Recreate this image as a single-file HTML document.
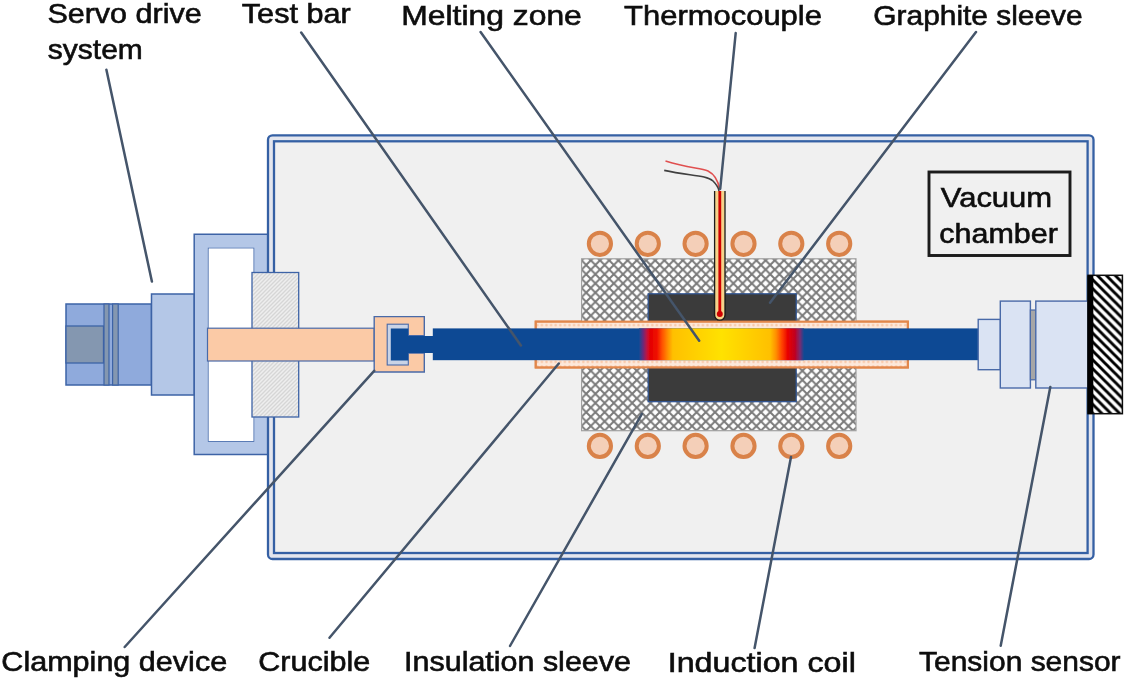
<!DOCTYPE html>
<html><head><meta charset="utf-8">
<style>
html,body{margin:0;padding:0;background:#fff;}
svg{display:block;}
text{font-family:"Liberation Sans",sans-serif;fill:#0d0d0d;stroke:#0d0d0d;stroke-width:0.6px;font-size:28px;}
</style></head>
<body>
<svg width="1126" height="681" viewBox="0 0 1126 681">
<defs>
  <filter id="soft" x="0" y="0" width="1126" height="681" filterUnits="userSpaceOnUse"><feGaussianBlur stdDeviation="0.45"/></filter>
  <pattern id="xhatch" patternUnits="userSpaceOnUse" width="9.2" height="9.2" x="581.6" y="260.4">
    <rect width="9.2" height="9.2" fill="#ffffff"/>
    <path d="M0,0 L9.2,9.2 M9.2,0 L0,9.2" stroke="#7a7a7a" stroke-width="2.0"/>
  </pattern>
  <pattern id="cruc" patternUnits="userSpaceOnUse" width="4.6" height="4.6" x="535" y="322.8">
    <rect width="4.6" height="4.6" fill="#fde8da"/>
    <circle cx="2.3" cy="2.3" r="1.2" fill="#f8c4a2"/>
  </pattern>
  <pattern id="lhatch" patternUnits="userSpaceOnUse" width="4" height="4">
    <rect width="4" height="4" fill="#eeeeee"/>
    <path d="M-1,5 L5,-1 M-1,1 L1,-1 M3,5 L5,3" stroke="#d6d6d6" stroke-width="1.3"/>
  </pattern>
  <pattern id="whatch" patternUnits="userSpaceOnUse" width="8.9" height="8.9" x="1088" y="275">
    <rect width="8.9" height="8.9" fill="#ffffff"/>
    <path d="M-2.2,-2.2 L11.1,11.1 M-2.2,6.7 L4.45,13.35 M4.45,-4.45 L13.35,4.45" stroke="#000" stroke-width="2.9"/>
  </pattern>
  <linearGradient id="melt" x1="639" y1="0" x2="804" y2="0" gradientUnits="userSpaceOnUse">
    <stop offset="0" stop-color="#0f4a94"/>
    <stop offset="0.025" stop-color="#6a2a7a"/>
    <stop offset="0.05" stop-color="#c81038"/>
    <stop offset="0.07" stop-color="#e40000"/>
    <stop offset="0.11" stop-color="#f01000"/>
    <stop offset="0.14" stop-color="#ff5000"/>
    <stop offset="0.175" stop-color="#ff9000"/>
    <stop offset="0.205" stop-color="#ffc000"/>
    <stop offset="0.5" stop-color="#ffe200"/>
    <stop offset="0.795" stop-color="#ffc000"/>
    <stop offset="0.83" stop-color="#ff9000"/>
    <stop offset="0.867" stop-color="#ff4000"/>
    <stop offset="0.903" stop-color="#e80000"/>
    <stop offset="0.945" stop-color="#c00020"/>
    <stop offset="0.976" stop-color="#7a2a70"/>
    <stop offset="1" stop-color="#0f4a94"/>
  </linearGradient>
</defs>
<g filter="url(#soft)">
<rect x="0" y="0" width="1126" height="681" fill="#ffffff"/>

<!-- Frame -->
<path d="M194.2,234.3 H268 V454.5 H194.2 Z M208.6,248.4 V441 H253.5 V248.4 Z" fill="#b4c7e7" fill-rule="evenodd" stroke="#3d63a6" stroke-width="1.5"/>
<rect x="208.6" y="248.4" width="44.9" height="192.6" fill="#ffffff"/>

<!-- Vacuum chamber -->
<rect x="268" y="135.3" width="825.5" height="423.7" rx="4.5" fill="#e4e6ee" stroke="#3560a4" stroke-width="2.3"/>
<rect x="274" y="141.3" width="813.6" height="411.7" fill="#f0f0f0" stroke="#3560a4" stroke-width="2.3"/>

<!-- Servo drive -->
<rect x="66" y="304" width="85.5" height="81" fill="#8faadc" stroke="#3d63a6" stroke-width="1.5"/>
<rect x="66" y="326" width="37.5" height="37" fill="#8497b0" stroke="#3d63a6" stroke-width="1.3"/>
<rect x="104" y="304" width="5" height="81" fill="#8497b0" stroke="#3d63a6" stroke-width="1.2"/>
<rect x="112.6" y="304" width="5.6" height="81" fill="#8497b0" stroke="#3d63a6" stroke-width="1.2"/>
<rect x="151.5" y="294" width="42.5" height="101" fill="#b4c7e7" stroke="#3d63a6" stroke-width="1.5"/>

<rect x="252" y="272.5" width="46.7" height="144.5" fill="url(#lhatch)" stroke="#3d63a6" stroke-width="1.3"/>

<!-- Rod -->
<rect x="207.5" y="328.2" width="166.7" height="32.8" fill="#fbcaa6" stroke="#4a6aa8" stroke-width="1.2"/>

<!-- Clamp -->
<path d="M374.2,316.6 H424.3 V335.8 H408.3 V353 H424.3 V372 H374.2 Z" fill="#fbcaa6" stroke="#4a6aa8" stroke-width="1.4"/>
<rect x="387.2" y="324.2" width="21.1" height="40.8" fill="#c9d3e6" stroke="#4a6aa8" stroke-width="1.1"/>

<!-- Crucible -->
<rect x="535.8" y="321.7" width="372" height="45.7" fill="url(#cruc)" stroke="#e2874c" stroke-width="2.2"/>

<!-- Insulation sleeve -->
<rect x="581.6" y="258.8" width="274.4" height="171.9" fill="url(#xhatch)" stroke="#a0a0a0" stroke-width="1.2"/>
<!-- Graphite -->
<rect x="648.2" y="293.8" width="148" height="107.9" fill="#3b3b3b" stroke="#2f5597" stroke-width="1.2"/>
<!-- crucible bands over insulation -->
<rect x="535.8" y="321.7" width="372" height="45.7" fill="url(#cruc)" stroke="#e2874c" stroke-width="2.2"/>

<!-- Test bar -->
<rect x="390.8" y="328.5" width="17.5" height="32" fill="#0f4a94"/>
<rect x="408" y="336" width="25" height="17" fill="#0f4a94"/>
<rect x="432.8" y="328.4" width="545.9" height="31.8" fill="#0f4a94"/>
<rect x="639" y="328.4" width="165" height="31.8" fill="url(#melt)"/>

<!-- Coils -->
<g fill="#f4cfb8" stroke="#d9824a" stroke-width="4.0">
  <circle cx="599.9" cy="243.8" r="11.1"/>
  <circle cx="647.8" cy="243.8" r="11.1"/>
  <circle cx="695.6" cy="243.8" r="11.1"/>
  <circle cx="743.5" cy="243.8" r="11.1"/>
  <circle cx="791.3" cy="243.8" r="11.1"/>
  <circle cx="839.2" cy="243.8" r="11.1"/>
  <circle cx="599.9" cy="445.9" r="11.1"/>
  <circle cx="647.8" cy="445.9" r="11.1"/>
  <circle cx="695.6" cy="445.9" r="11.1"/>
  <circle cx="743.5" cy="445.9" r="11.1"/>
  <circle cx="791.3" cy="445.9" r="11.1"/>
  <circle cx="839.2" cy="445.9" r="11.1"/>
</g>

<!-- Thermocouple -->
<path d="M714.6,191 V315 A5.2,5.2 0 0 0 725,315 V191 Z" fill="#f6d38a"/>
<path d="M714.6,191 V315 A5.2,5.2 0 0 0 725,315 V191" fill="none" stroke="#1a1a1a" stroke-width="1.3"/>
<line x1="719.8" y1="191" x2="719.8" y2="313" stroke="#d00000" stroke-width="2.8"/>
<circle cx="719.8" cy="314" r="3" fill="#d00000"/>
<path d="M665.5,161 C688,168 700,168 708,171 C714,174 718,180 719.5,189" fill="none" stroke="#e05050" stroke-width="1.6"/>
<path d="M664.2,170.4 C690,176 706,175 713,181 C717,185 718.5,188 719,191" fill="none" stroke="#404040" stroke-width="1.6"/>

<!-- Tension sensor -->
<rect x="978.2" y="319.4" width="22.1" height="50.3" fill="#dae3f3" stroke="#4a6aa8" stroke-width="1.4"/>
<rect x="1000.3" y="301.1" width="30.1" height="86.9" fill="#dae3f3" stroke="#4a6aa8" stroke-width="1.4"/>
<rect x="1030.4" y="310" width="5.6" height="69.8" fill="#a6a6a6" stroke="#4a6aa8" stroke-width="1.2"/>
<rect x="1035.8" y="301.1" width="52.2" height="86.9" fill="#dae3f3" stroke="#4a6aa8" stroke-width="1.4"/>
<!-- wall -->
<rect x="1088" y="275.3" width="34.4" height="138.4" fill="url(#whatch)" stroke="#111" stroke-width="1.5"/>
<rect x="1087.6" y="275.3" width="5.7" height="138.6" fill="#000"/>

<!-- Vacuum chamber label -->
<rect x="929" y="172" width="141" height="83.5" fill="none" stroke="#1a1a1a" stroke-width="2.9"/>

<!-- Leader lines -->
<g stroke="#44546a" stroke-width="2.5" stroke-linecap="round">
  <line x1="106.4" y1="69.7" x2="151.9" y2="281.5"/>
  <line x1="301.2" y1="32.5" x2="520.9" y2="345.5"/>
  <line x1="480.6" y1="32" x2="699.2" y2="340.7"/>
  <line x1="735.7" y1="33" x2="720.2" y2="189"/>
  <line x1="976" y1="32" x2="770" y2="302.8"/>
  <line x1="124.7" y1="647" x2="374.2" y2="370.8"/>
  <line x1="329.5" y1="637.8" x2="558.8" y2="363.5"/>
  <line x1="510" y1="646" x2="641.9" y2="413.9"/>
  <line x1="754.6" y1="648" x2="791" y2="457"/>
  <line x1="1000.7" y1="645.7" x2="1050.3" y2="386.9"/>
</g>

<!-- Labels -->
<text x="47.42" y="23.00" font-size="29" textLength="154.26" lengthAdjust="spacingAndGlyphs">Servo drive</text>
<text x="47.86" y="59.00" font-size="29" textLength="94.90" lengthAdjust="spacingAndGlyphs">system</text>
<text x="241.80" y="23.00" font-size="29" textLength="108.94" lengthAdjust="spacingAndGlyphs">Test bar</text>
<text x="401.20" y="25.00" font-size="29" textLength="180.66" lengthAdjust="spacingAndGlyphs">Melting zone</text>
<text x="624.07" y="25.00" font-size="29" textLength="197.84" lengthAdjust="spacingAndGlyphs">Thermocouple</text>
<text x="873.35" y="25.00" font-size="29" textLength="209.28" lengthAdjust="spacingAndGlyphs">Graphite sleeve</text>
<text x="940.78" y="207.00" font-size="31" textLength="111.41" lengthAdjust="spacingAndGlyphs">Vacuum</text>
<text x="939.29" y="243.00" font-size="31" textLength="118.56" lengthAdjust="spacingAndGlyphs">chamber</text>
<text x="1.35" y="671.00" font-size="29" textLength="225.80" lengthAdjust="spacingAndGlyphs">Clamping device</text>
<text x="258.29" y="671.00" font-size="29" textLength="111.89" lengthAdjust="spacingAndGlyphs">Crucible</text>
<text x="404.12" y="671.00" font-size="29" textLength="226.79" lengthAdjust="spacingAndGlyphs">Insulation sleeve</text>
<text x="667.75" y="672.00" font-size="29" textLength="188.08" lengthAdjust="spacingAndGlyphs">Induction coil</text>
<text x="918.99" y="671.00" font-size="29" textLength="201.63" lengthAdjust="spacingAndGlyphs">Tension sensor</text>
</g>
</svg>
</body></html>
